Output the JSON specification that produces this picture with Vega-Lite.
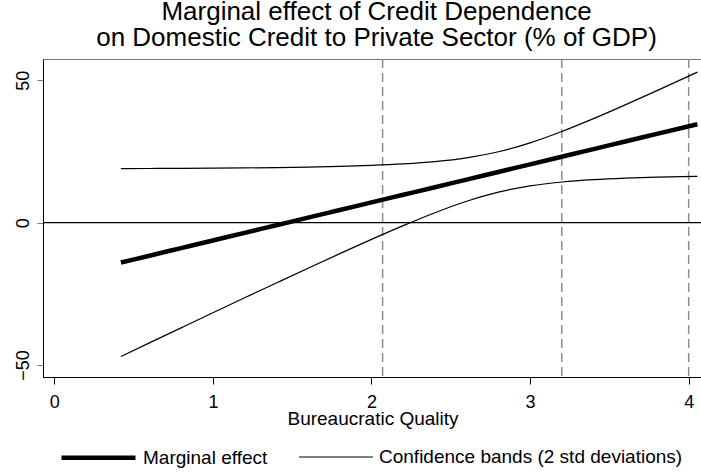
{
  "$schema": "https://vega.github.io/schema/vega-lite/v6.json",
  "width": 659,
  "height": 318,
  "autosize": {"type": "none"},
  "padding": {"left": 43, "top": 59, "right": 0, "bottom": 99},
  "background": "white",
  "title": {
    "text": ["Marginal effect of Credit Dependence", "on Domestic Credit to Private Sector (% of GDP)"],
    "fontSize": 26,
    "font": "Liberation Sans",
    "fontWeight": "normal",
    "color": "black",
    "anchor": "middle",
    "baseline": "bottom",
    "lineHeight": 26,
    "offset": 7,
    "dx": 4,
    "dy": 26
  },
  "config": {
    "view": {"stroke": "#777777", "strokeWidth": 1},
    "font": "Liberation Sans",
    "axis": {
      "grid": false,
      "domainColor": "black",
      "labelFont": "Liberation Sans",
      "titleFont": "Liberation Sans",
      "labelColor": "black",
      "titleColor": "black",
      "titleFontWeight": "normal"
    }
  },
  "datasets": {
    "curves": [
      {"x": 0.42, "y": -14.0, "series": "Marginal effect", "line": "mean"},
      {"x": 0.6, "y": -11.59, "series": "Marginal effect", "line": "mean"},
      {"x": 0.8, "y": -8.92, "series": "Marginal effect", "line": "mean"},
      {"x": 1.0, "y": -6.25, "series": "Marginal effect", "line": "mean"},
      {"x": 1.2, "y": -3.57, "series": "Marginal effect", "line": "mean"},
      {"x": 1.4, "y": -0.9, "series": "Marginal effect", "line": "mean"},
      {"x": 1.6, "y": 1.78, "series": "Marginal effect", "line": "mean"},
      {"x": 1.8, "y": 4.45, "series": "Marginal effect", "line": "mean"},
      {"x": 2.0, "y": 7.13, "series": "Marginal effect", "line": "mean"},
      {"x": 2.2, "y": 9.8, "series": "Marginal effect", "line": "mean"},
      {"x": 2.4, "y": 12.47, "series": "Marginal effect", "line": "mean"},
      {"x": 2.6, "y": 15.15, "series": "Marginal effect", "line": "mean"},
      {"x": 2.8, "y": 17.82, "series": "Marginal effect", "line": "mean"},
      {"x": 3.0, "y": 20.5, "series": "Marginal effect", "line": "mean"},
      {"x": 3.2, "y": 23.17, "series": "Marginal effect", "line": "mean"},
      {"x": 3.4, "y": 25.84, "series": "Marginal effect", "line": "mean"},
      {"x": 3.6, "y": 28.52, "series": "Marginal effect", "line": "mean"},
      {"x": 3.8, "y": 31.19, "series": "Marginal effect", "line": "mean"},
      {"x": 4.055, "y": 34.6, "series": "Marginal effect", "line": "mean"},
      {"x": 0.42, "y": 19.0, "series": "Confidence bands (2 std deviations)", "line": "upper"},
      {"x": 0.6, "y": 19.04, "series": "Confidence bands (2 std deviations)", "line": "upper"},
      {"x": 0.8, "y": 19.09, "series": "Confidence bands (2 std deviations)", "line": "upper"},
      {"x": 1.0, "y": 19.16, "series": "Confidence bands (2 std deviations)", "line": "upper"},
      {"x": 1.2, "y": 19.25, "series": "Confidence bands (2 std deviations)", "line": "upper"},
      {"x": 1.4, "y": 19.37, "series": "Confidence bands (2 std deviations)", "line": "upper"},
      {"x": 1.6, "y": 19.54, "series": "Confidence bands (2 std deviations)", "line": "upper"},
      {"x": 1.8, "y": 19.77, "series": "Confidence bands (2 std deviations)", "line": "upper"},
      {"x": 2.0, "y": 20.11, "series": "Confidence bands (2 std deviations)", "line": "upper"},
      {"x": 2.2, "y": 20.63, "series": "Confidence bands (2 std deviations)", "line": "upper"},
      {"x": 2.4, "y": 21.43, "series": "Confidence bands (2 std deviations)", "line": "upper"},
      {"x": 2.6, "y": 22.76, "series": "Confidence bands (2 std deviations)", "line": "upper"},
      {"x": 2.8, "y": 24.91, "series": "Confidence bands (2 std deviations)", "line": "upper"},
      {"x": 3.0, "y": 28.06, "series": "Confidence bands (2 std deviations)", "line": "upper"},
      {"x": 3.2, "y": 32.04, "series": "Confidence bands (2 std deviations)", "line": "upper"},
      {"x": 3.4, "y": 36.55, "series": "Confidence bands (2 std deviations)", "line": "upper"},
      {"x": 3.6, "y": 41.38, "series": "Confidence bands (2 std deviations)", "line": "upper"},
      {"x": 3.8, "y": 46.38, "series": "Confidence bands (2 std deviations)", "line": "upper"},
      {"x": 4.055, "y": 52.9, "series": "Confidence bands (2 std deviations)", "line": "upper"},
      {"x": 0.42, "y": -47.0, "series": "Confidence bands (2 std deviations)", "line": "lower"},
      {"x": 0.6, "y": -42.22, "series": "Confidence bands (2 std deviations)", "line": "lower"},
      {"x": 0.8, "y": -36.93, "series": "Confidence bands (2 std deviations)", "line": "lower"},
      {"x": 1.0, "y": -31.65, "series": "Confidence bands (2 std deviations)", "line": "lower"},
      {"x": 1.2, "y": -26.39, "series": "Confidence bands (2 std deviations)", "line": "lower"},
      {"x": 1.4, "y": -21.17, "series": "Confidence bands (2 std deviations)", "line": "lower"},
      {"x": 1.6, "y": -15.98, "series": "Confidence bands (2 std deviations)", "line": "lower"},
      {"x": 1.8, "y": -10.87, "series": "Confidence bands (2 std deviations)", "line": "lower"},
      {"x": 2.0, "y": -5.86, "series": "Confidence bands (2 std deviations)", "line": "lower"},
      {"x": 2.2, "y": -1.03, "series": "Confidence bands (2 std deviations)", "line": "lower"},
      {"x": 2.4, "y": 3.51, "series": "Confidence bands (2 std deviations)", "line": "lower"},
      {"x": 2.6, "y": 7.54, "series": "Confidence bands (2 std deviations)", "line": "lower"},
      {"x": 2.8, "y": 10.73, "series": "Confidence bands (2 std deviations)", "line": "lower"},
      {"x": 3.0, "y": 12.94, "series": "Confidence bands (2 std deviations)", "line": "lower"},
      {"x": 3.2, "y": 14.3, "series": "Confidence bands (2 std deviations)", "line": "lower"},
      {"x": 3.4, "y": 15.13, "series": "Confidence bands (2 std deviations)", "line": "lower"},
      {"x": 3.6, "y": 15.66, "series": "Confidence bands (2 std deviations)", "line": "lower"},
      {"x": 3.8, "y": 16.0, "series": "Confidence bands (2 std deviations)", "line": "lower"},
      {"x": 4.055, "y": 16.3, "series": "Confidence bands (2 std deviations)", "line": "lower"}
    ],
    "vlines": [{"x": 2.07}, {"x": 3.2}, {"x": 4.0}],
    "hline": [{"y": 0}]
  },
  "layer": [
    {
      "data": {"name": "hline"},
      "mark": {"type": "rule", "color": "black", "strokeWidth": 1.3},
      "encoding": {
        "y": {
          "field": "y", "type": "quantitative",
          "scale": {"domain": [-54.2, 57.5], "nice": false, "zero": false},
          "axis": {"title": null, "values": [-50, 0, 50], "tickSize": 6, "tickColor": "#777777", "labelFontSize": 18, "labelAngle": -90, "labelAlign": "center", "labelBaseline": "alphabetic", "labelPadding": 9, "labelFlush": false, "labelOverlap": false}
        }
      }
    },
    {
      "data": {"name": "vlines"},
      "mark": {"type": "rule", "color": "#8c8c8c", "strokeWidth": 1.5, "strokeDash": [9, 5]},
      "encoding": {
        "x": {
          "field": "x", "type": "quantitative",
          "scale": {"domain": [-0.0712, 4.084], "nice": false, "zero": false},
          "axis": {"title": "Bureaucratic Quality", "values": [0, 1, 2, 3, 4], "format": "d", "tickSize": 7, "tickColor": "black", "labelFontSize": 18, "labelPadding": 9, "labelFlush": false, "labelOverlap": false, "titleFontSize": 19, "titleBaseline": "alphabetic", "titleY": 47}
        }
      }
    },
    {
      "data": {"name": "curves"},
      "mark": {"type": "line", "color": "black", "interpolate": "monotone"},
      "encoding": {
        "x": {
          "field": "x", "type": "quantitative",
          "scale": {"domain": [-0.0712, 4.084], "nice": false, "zero": false},
          "axis": {"title": "Bureaucratic Quality", "values": [0, 1, 2, 3, 4], "format": "d", "tickSize": 7, "tickColor": "black", "labelFontSize": 18, "labelPadding": 9, "labelFlush": false, "labelOverlap": false, "titleFontSize": 19, "titleBaseline": "alphabetic", "titleY": 47}
        },
        "y": {
          "field": "y", "type": "quantitative",
          "scale": {"domain": [-54.2, 57.5], "nice": false, "zero": false},
          "axis": {"title": null, "values": [-50, 0, 50], "tickSize": 6, "tickColor": "#777777", "labelFontSize": 18, "labelAngle": -90, "labelAlign": "center", "labelBaseline": "alphabetic", "labelPadding": 9, "labelFlush": false, "labelOverlap": false}
        },
        "detail": {"field": "line", "type": "nominal"},
        "strokeWidth": {
          "field": "series", "type": "nominal",
          "scale": {"domain": ["Marginal effect", "Confidence bands (2 std deviations)"], "range": [4.5, 1.2]},
          "legend": {"title": null, "orient": "none", "legendX": 16, "legendY": 359, "direction": "horizontal", "symbolType": "stroke", "symbolSize": 5476, "symbolStrokeColor": "black", "labelFontSize": 19, "labelFont": "Liberation Sans", "labelColor": "black", "labelOffset": 5, "columnPadding": 28, "labelLimit": 400, "padding": 0}
        }
      }
    }
  ]
}
